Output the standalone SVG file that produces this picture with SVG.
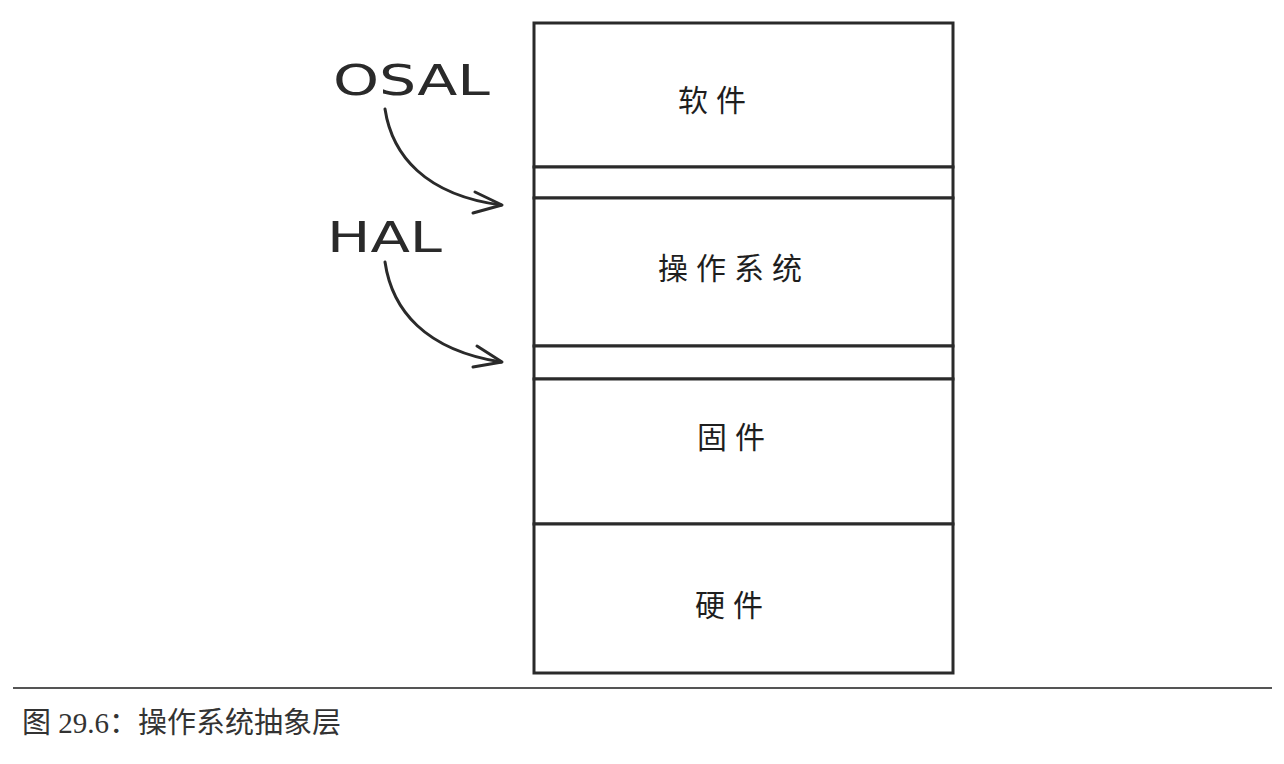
<svg xmlns="http://www.w3.org/2000/svg" width="1284" height="764" viewBox="0 0 1284 764">
<style>
.box{fill:#fff;stroke:#2a2a2a;stroke-width:3}
.lbl{font-family:"Noto Sans CJK SC",sans-serif;font-size:30px;fill:#1e1e1e;text-anchor:middle;letter-spacing:8px}
.hand{font-family:"DejaVu Sans",sans-serif;font-size:42px;font-weight:normal;fill:#2a2a2a}
.arr{fill:none;stroke:#2a2a2a;stroke-width:3;stroke-linecap:round;stroke-linejoin:round}
.cap{font-family:"Liberation Serif","Noto Sans CJK SC",serif;font-size:29px;fill:#333}
</style>
<rect width="1284" height="764" fill="#fff"/>
<g id="software"><rect class="box" x="534" y="23" width="419" height="144"/><text class="lbl" x="716" y="111">软件</text></g>
<g id="osal-band"><rect class="box" x="534" y="167" width="419" height="31"/></g>
<g id="os"><rect class="box" x="534" y="198" width="419" height="148"/><text class="lbl" x="734" y="279">操作系统</text></g>
<g id="hal-band"><rect class="box" x="534" y="346" width="419" height="33"/></g>
<g id="firmware"><rect class="box" x="534" y="379" width="419" height="145"/><text class="lbl" x="735" y="448">固件</text></g>
<g id="hardware"><rect class="box" x="534" y="524" width="419" height="149"/><text class="lbl" x="733" y="616">硬件</text></g>
<g id="osal-label"><text class="hand" x="333" y="95" textLength="157" lengthAdjust="spacingAndGlyphs">OSAL</text></g>
<g id="hal-label"><text class="hand" x="327" y="252" textLength="115" lengthAdjust="spacingAndGlyphs">HAL</text></g>
<g id="connectors">
<path class="arr" d="M385,109 C392,155 425,195 501,205"/>
<path class="arr" d="M475,192 L502,205 L473,213"/>
<path class="arr" d="M385,262 C392,310 425,350 501,362"/>
<path class="arr" d="M477,346 L502,362 L473,367"/>
</g>
<line x1="13" y1="688" x2="1272" y2="688" stroke="#555" stroke-width="2"/>
<text class="cap" x="22" y="733">图 29.6：操作系统抽象层</text>
</svg>
